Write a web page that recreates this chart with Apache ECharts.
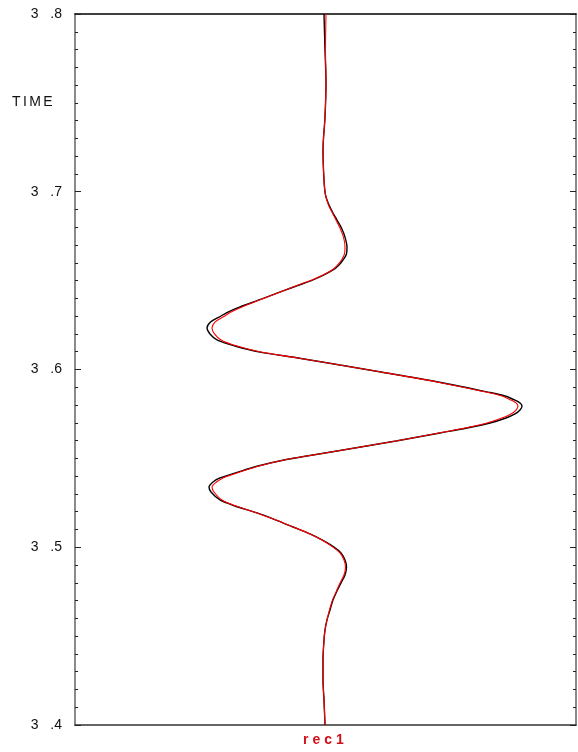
<!DOCTYPE html>
<html><head><meta charset="utf-8">
<script src="https://cdn.jsdelivr.net/npm/echarts@6/dist/echarts.min.js"></script>
<style>html,body{margin:0;padding:0;background:#fff}#c{width:578px;height:752px}</style>
</head><body><div id="c"></div>
<script>
// time samples (s)
var times = [3.8000,3.7797,3.7612,3.7421,3.7235,3.7066,3.6982,3.6925,3.6880,3.6841,
3.6796,3.6745,3.6689,3.6650,3.6616,3.6582,3.6560,3.6532,3.6504,3.6475,
3.6442,3.6397,3.6352,3.6323,3.6295,3.6267,3.6233,3.6200,3.6166,3.6132,
3.6098,3.6065,3.6025,3.5986,3.5930,3.5873,3.5851,3.5828,3.5812,3.5795,
3.5772,3.5750,3.5727,3.5699,3.5671,3.5643,3.5598,3.5547,3.5519,3.5491,
3.5457,3.5423,3.5390,3.5367,3.5339,3.5311,3.5266,3.5232,3.5193,3.5153,
3.5114,3.5075,3.5041,3.5001,3.4968,3.4928,3.4889,3.4844,3.4799,3.4754,
3.4703,3.4647,3.4591,3.4534,3.4478,3.4366,3.4253,3.4141,3.4000];
// trace amplitudes, black trace
var ampBlack = [-0.01,0.00,0.01,0.00,-0.02,-0.01,0.005,0.04,0.08,0.12,
0.165,0.20,0.22,0.215,0.18,0.13,0.08,-0.01,-0.12,-0.26,
-0.42,-0.63,-0.85,-0.97,-1.06,-1.145,-1.18,-1.15,-1.08,-0.90,
-0.65,-0.27,0.15,0.56,1.13,1.63,1.80,1.90,1.95,1.97,
1.95,1.90,1.81,1.65,1.42,1.15,0.71,0.18,-0.12,-0.41,
-0.67,-0.87,-1.05,-1.12,-1.16,-1.14,-1.05,-0.90,-0.68,-0.49,
-0.32,-0.15,-0.03,0.09,0.16,0.20,0.215,0.20,0.16,0.12,
0.08,0.05,0.02,0.00,-0.01,-0.02,-0.02,-0.01,0.00];
// trace amplitudes, red trace
var ampRed = [0.01,0.005,0.01,0.00,-0.02,-0.01,0.005,0.035,0.075,0.11,
0.15,0.185,0.20,0.195,0.165,0.115,0.07,-0.02,-0.13,-0.27,
-0.42,-0.63,-0.83,-0.94,-1.02,-1.10,-1.13,-1.105,-1.04,-0.88,
-0.64,-0.27,0.15,0.56,1.12,1.61,1.77,1.86,1.91,1.93,
1.91,1.86,1.77,1.62,1.40,1.14,0.71,0.18,-0.12,-0.41,
-0.66,-0.85,-1.02,-1.085,-1.13,-1.11,-1.03,-0.89,-0.68,-0.49,
-0.32,-0.15,-0.03,0.08,0.15,0.19,0.205,0.19,0.15,0.115,
0.075,0.045,0.02,0.00,-0.01,-0.02,-0.02,-0.01,0.00];
var traceName = 'rec1';
var axisTitle = 'TIME';

function pairs(a){ return a.map(function(v,i){ return [v, times[i]]; }); }
function spaced(s, key){ return s.split('').map(function(ch){ return '{' + key + '|' + ch + '}'; }).join(''); }

var chart = echarts.init(document.getElementById('c'), null, {renderer:'canvas'});
var yAxisBase = {
  type:'value', min:3.4, max:3.8, interval:0.1,
  splitLine:{show:false},
  axisLine:{show:true, onZero:false, lineStyle:{color:'#8a8a8a', width:2}},
  axisTick:{show:true, inside:true, length:6, lineStyle:{color:'#222', width:1}},
  minorTick:{show:true, splitNumber:10, length:3, lineStyle:{color:'#222', width:1}},
  minorSplitLine:{show:false}
};
chart.setOption({
  animation:false,
  grid:{left:75, right:2, top:14, bottom:27},
  xAxis:[
    {type:'value', min:-2.5, max:2.51, position:'bottom',
     axisLine:{show:true, onZero:false, lineStyle:{color:'#333', width:1.5}},
     axisTick:{show:false}, axisLabel:{show:false}, splitLine:{show:false}},
    {type:'value', min:-2.5, max:2.51, position:'top',
     axisLine:{show:true, onZero:false, lineStyle:{color:'#000', width:1.5}},
     axisTick:{show:false}, axisLabel:{show:false}, splitLine:{show:false}}
  ],
  yAxis:[
    Object.assign({}, yAxisBase, {position:'left',
      axisLabel:{show:true, margin:13, color:'#111', fontSize:14, fontFamily:'Liberation Sans, Arial, sans-serif',
        formatter:function(v){ var s=v.toFixed(1); return s.replace('.', '   .'); }}}),
    Object.assign({}, yAxisBase, {position:'right', axisLabel:{show:false}})
  ],
  graphic:[
    {type:'text', left:12, top:95, style:{text:spaced(axisTitle,'t'), rich:{t:{fontSize:14, fontFamily:'Liberation Sans, Arial, sans-serif', fill:'#111', padding:[0,1.2,0,1.2]}}}},
    {type:'text', left:303, top:733, style:{text:spaced(traceName,'r'), rich:{r:{fontSize:14, fontWeight:'bold', fontFamily:'Liberation Sans, Arial, sans-serif', fill:'#d0101a', padding:[0,2,0,2]}}}}
  ],
  series:[
    {type:'line', name:'black', data:pairs(ampBlack), xAxisIndex:0, yAxisIndex:0, symbol:'none', smooth:0.3,
     lineStyle:{color:'#000', width:1.4}},
    {type:'line', name:'red', data:pairs(ampRed), xAxisIndex:0, yAxisIndex:0, symbol:'none', smooth:0.3,
     lineStyle:{color:'#ff0000', width:1.1}}
  ]
});
</script></body></html>
